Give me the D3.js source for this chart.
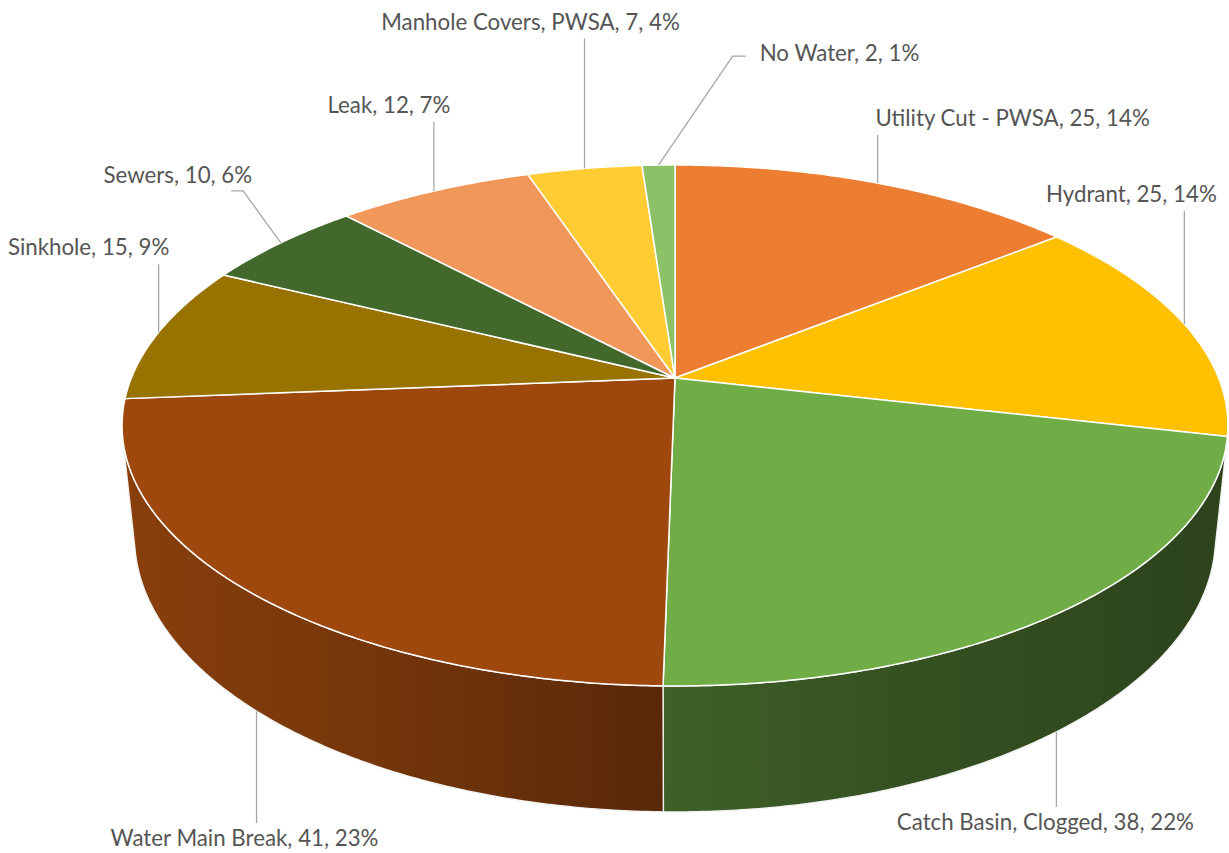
<!DOCTYPE html>
<html>
<head>
<meta charset="utf-8">
<script src="https://cdn.jsdelivr.net/npm/d3@7/dist/d3.min.js"></script>
<style>
  html, body { margin: 0; padding: 0; background: #fff; }
  svg { display: block; }
</style>
</head>
<body>
<div id="chart"></div>
<script>
// complaint types, clockwise from 12 o'clock
const categories = ["Utility Cut - PWSA", "Hydrant", "Catch Basin, Clogged", "Water Main Break",
  "Sinkhole", "Sewers", "Leak", "Manhole Covers, PWSA", "No Water"];
const counts = [25, 25, 38, 41, 15, 10, 12, 7, 2];
const colors = ["#ED7D31", "#FFC000", "#70AD47", "#9E480E", "#997300", "#43682B", "#F1975A", "#FFCD33", "#8CC168"];

// where each label sits relative to its slice anchor, and how its leader is drawn
const labelLayout = [
  { dx: 135, dy: -65, leader: "vertical" },
  { dx: -53, dy: -130, leader: "vertical" },
  { dx: -11, dy: 90, leader: "vertical" },
  { dx: -12, dy: 127, leader: "vertical" },
  { dx: -70, dy: -85, leader: "vertical" },
  { dx: -103, dy: -68, leader: "under" },
  { dx: -45, dy: -86, leader: "vertical" },
  { dx: -54, dy: -147, leader: "vertical" },
  { dx: 181, dy: -112, leader: "left" }
];

const width = 1229, height = 853;
const cx = 675, cy = 378;

// simple perspective camera looking down on a flat cylinder
const tilt = Math.asin(0.4632);
const camDist = 1, radius = 0.2057, thickness = 0.0481, focal = 2643;

function project(theta, h) {
  const x = radius * Math.sin(theta), y = radius * Math.cos(theta);
  const depth = camDist + y * Math.cos(tilt) - h * Math.sin(tilt);
  return [cx + focal * x / depth, cy - focal * (y * Math.sin(tilt) + h * Math.cos(tilt)) / depth];
}

function arcPoints(a0, a1, h) {
  const n = Math.max(2, Math.ceil(Math.abs(a1 - a0) / (Math.PI / 360)));
  return d3.range(n + 1).map(i => project(a0 + (a1 - a0) * i / n, h));
}

const total = d3.sum(counts);
const pct = d3.format(".0%");
const data = categories.map((c, i) => ({ name: c, value: counts[i], color: colors[i], layout: labelLayout[i] }));
const arcs = d3.pie().sort(null).value(d => d.value)(data);

const svg = d3.select("#chart").append("svg")
  .attr("width", width)
  .attr("height", height);

const defs = svg.append("defs");
const line = d3.line();

// front wall visible where the outer face turns toward the camera
const wallMin = Math.acos(-radius / (camDist * Math.cos(tilt)));
const wallMax = 2 * Math.PI - wallMin;

const leftX = project(-Math.acos(-radius * Math.cos(tilt)), 0)[0];
const rightX = project(Math.acos(-radius * Math.cos(tilt)), 0)[0];
const shade = [[0, 0.87], [0.25, 0.73], [0.49, 0.56], [0.7, 0.47], [1, 0.39]];

const walls = svg.append("g");
arcs.forEach((a, i) => {
  const a0 = Math.max(a.startAngle, wallMin);
  const a1 = Math.min(a.endAngle, wallMax);
  if (a1 <= a0) return;
  const grad = defs.append("linearGradient")
    .attr("id", "wall-" + i)
    .attr("gradientUnits", "userSpaceOnUse")
    .attr("x1", leftX).attr("x2", rightX)
    .attr("y1", 0).attr("y2", 0);
  const base = d3.rgb(a.data.color);
  shade.forEach(([o, f]) => {
    grad.append("stop")
      .attr("offset", o)
      .attr("stop-color", d3.rgb(base.r * f, base.g * f, base.b * f).formatHex());
  });
  const pts = arcPoints(a0, a1, 0).concat(arcPoints(a1, a0, -thickness));
  walls.append("path")
    .attr("d", line(pts) + "Z")
    .attr("fill", `url(#wall-${i})`)
    .attr("stroke", "#f2f2f2")
    .attr("stroke-width", 1.4)
    .attr("stroke-linejoin", "round");
});

// top faces
const tops = svg.append("g");
arcs.forEach(a => {
  const pts = [[cx, cy]].concat(arcPoints(a.startAngle, a.endAngle, 0));
  tops.append("path")
    .attr("d", line(pts) + "Z")
    .attr("fill", a.data.color)
    .attr("stroke", "#ffffff")
    .attr("stroke-width", 1.5)
    .attr("stroke-linejoin", "round");
});

// data labels with leader lines
const labels = svg.append("g");
const textScale = 0.97;
arcs.forEach(a => {
  const mid = (a.startAngle + a.endAngle) / 2;
  const front = mid > wallMin && mid < wallMax;
  const anchor = project(mid, front ? -thickness : 0);
  const L = a.data.layout;
  const lx = anchor[0] + L.dx, ly = anchor[1] + L.dy;

  const t = labels.append("text")
    .attr("transform", `translate(${lx},${ly + 8}) scale(${textScale},1)`)
    .attr("text-anchor", "middle")
    .attr("font-family", "Lato, 'Open Sans', sans-serif")
    .attr("font-size", "23px")
    .attr("fill", "#555555")
    .text(`${a.data.name}, ${a.data.value}, ${pct(a.data.value / total)}`);
  const w = t.node().getComputedTextLength() * textScale;
  const left = lx - w / 2, right = lx + w / 2;

  let pts;
  if (L.leader === "left") {
    pts = [anchor, [left - 27, ly + 3], [left - 14, ly + 3]];
  } else if (L.leader === "under") {
    pts = [anchor, [right - 9, ly + 16], [right - 21, ly + 16]];
  } else {
    const above = ly < anchor[1];
    const ex = Math.min(Math.max(anchor[0], left - 8), right + 8);
    pts = [anchor, [ex, above ? ly + 17 : ly - 15]];
  }
  labels.insert("path", "text")
    .attr("d", line(pts))
    .attr("fill", "none")
    .attr("stroke", "#a6a6a6")
    .attr("stroke-width", 1.3);
});
</script>
</body>
</html>
